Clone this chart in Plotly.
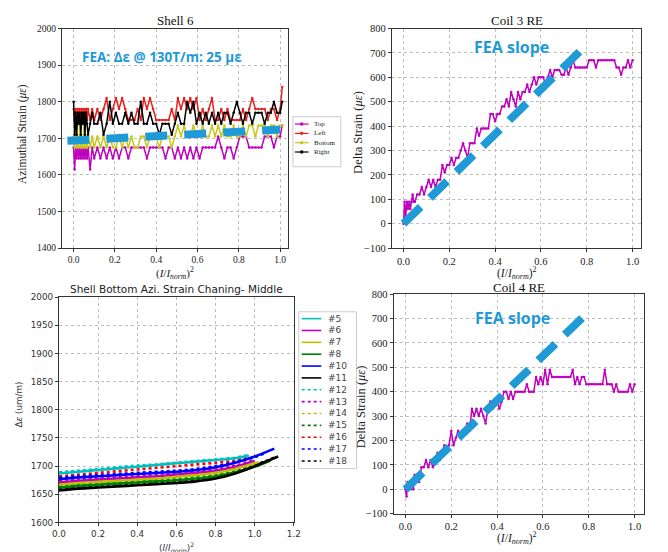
import plotly.graph_objects as go

W, H = 668, 552


def fx(p):
    return p / W


def fy(p):
    return 1 - p / H


# ---------------- data: Shell 6 ----------------
shell6_x = [0.000, 0.005, 0.010, 0.015, 0.020, 0.025, 0.030, 0.035, 0.040, 0.045, 0.050, 0.055, 0.060, 0.065, 0.070,
            0.080, 0.090, 0.100,
            0.115, 0.130, 0.145, 0.160, 0.175, 0.190, 0.205, 0.220, 0.235, 0.250,
            0.265, 0.280, 0.295, 0.310, 0.325, 0.340, 0.355, 0.370, 0.385, 0.400,
            0.415, 0.430, 0.445, 0.460, 0.475, 0.490, 0.505, 0.520, 0.535, 0.550,
            0.565, 0.580, 0.595, 0.610, 0.625, 0.640, 0.655, 0.670, 0.685, 0.700,
            0.715, 0.730, 0.745, 0.760, 0.775, 0.790, 0.805, 0.820, 0.835, 0.850,
            0.865, 0.880, 0.895, 0.910, 0.925, 0.940, 0.955, 0.970, 0.985, 1.000,
            1.010]
shell6_top = [1675, 1615, 1675, 1645, 1675, 1645, 1675, 1645, 1675, 1645, 1675, 1645, 1675, 1645, 1675,
              1615, 1675, 1645,
              1675, 1645, 1675, 1645, 1675, 1645, 1675, 1645, 1675, 1675,
              1645, 1675, 1675, 1675, 1675, 1675, 1645, 1675, 1675, 1675,
              1675, 1675, 1645, 1675, 1675, 1645, 1675, 1645, 1675, 1645,
              1675, 1645, 1675, 1645, 1675, 1675, 1675, 1675, 1675, 1705,
              1675, 1645, 1675, 1675, 1645, 1675, 1705, 1705, 1705, 1675,
              1675, 1675, 1675, 1675, 1705, 1705, 1705, 1675, 1705, 1705,
              1735]
shell6_left = [1780, 1750, 1780, 1750, 1780, 1750, 1780, 1750, 1780, 1750, 1780, 1750, 1780, 1750, 1780,
               1750, 1780, 1750,
               1780, 1750, 1780, 1810, 1750, 1780, 1810, 1780, 1810, 1780,
               1750, 1750, 1750, 1780, 1750, 1810, 1780, 1810, 1780, 1750,
               1750, 1750, 1750, 1750, 1780, 1750, 1810, 1780, 1810, 1780,
               1810, 1780, 1810, 1750, 1780, 1750, 1780, 1810, 1750, 1750,
               1780, 1750, 1780, 1750, 1750, 1750, 1750, 1780, 1750, 1780,
               1810, 1780, 1780, 1780, 1780, 1750, 1780, 1780, 1750, 1780,
               1840]
shell6_bottom = [1705, 1675, 1735, 1675, 1705, 1675, 1735, 1675, 1705, 1675, 1735, 1675, 1705, 1675, 1705,
                 1675, 1705, 1675,
                 1705, 1675, 1705, 1675, 1705, 1675, 1675, 1705, 1675, 1705,
                 1675, 1705, 1675, 1675, 1705, 1705, 1675, 1705, 1705, 1705,
                 1675, 1705, 1705, 1705, 1675, 1705, 1735, 1705, 1735, 1705,
                 1705, 1735, 1705, 1705, 1735, 1705, 1705, 1735, 1705, 1735,
                 1705, 1735, 1705, 1705, 1735, 1705, 1705, 1735, 1705, 1735,
                 1735, 1705, 1735, 1735, 1735, 1705, 1735, 1735, 1705, 1735,
                 1735]
shell6_right = [1800, 1710, 1770, 1710, 1770, 1740, 1770, 1710, 1770, 1740, 1770, 1710, 1770, 1740, 1710,
                1740, 1770, 1740,
                1740, 1770, 1710, 1740, 1800, 1740, 1770, 1740, 1740, 1770,
                1740, 1770, 1740, 1740, 1800, 1740, 1740, 1770, 1740, 1740,
                1710, 1740, 1740, 1740, 1710, 1740, 1770, 1740, 1740, 1800,
                1770, 1800, 1740, 1770, 1740, 1770, 1740, 1770, 1740, 1770,
                1740, 1770, 1770, 1740, 1770, 1800, 1770, 1740, 1770, 1770,
                1740, 1770, 1770, 1770, 1740, 1770, 1770, 1800, 1770, 1770,
                1800]
shell6_names = ["Top", "Left", "Bottom", "Right"]
shell6_colors = ["#bf00bf", "#e8201e", "#c8c81a", "#000000"]
fea_shell6_x = [-0.03, 1.0]
fea_shell6_y = [1693, 1724]

# ---------------- data: Coil 3 RE / Coil 4 RE ----------------
coil_x = [0.000, 0.005, 0.010, 0.015, 0.020, 0.025, 0.030, 0.035, 0.040, 0.045, 0.050,
          0.06, 0.07, 0.08, 0.09, 0.10, 0.11, 0.12, 0.13, 0.14, 0.15,
          0.16, 0.17, 0.18, 0.19, 0.20, 0.21, 0.22, 0.23, 0.24, 0.25,
          0.26, 0.27, 0.28, 0.29, 0.30, 0.31, 0.32, 0.33, 0.34, 0.35,
          0.36, 0.37, 0.38, 0.39, 0.40, 0.41, 0.42, 0.43, 0.44, 0.45,
          0.46, 0.47, 0.48, 0.49, 0.50, 0.51, 0.52, 0.53, 0.54, 0.55,
          0.56, 0.57, 0.58, 0.59, 0.60, 0.61, 0.62, 0.63, 0.64, 0.65,
          0.66, 0.67, 0.68, 0.69, 0.70, 0.71, 0.72, 0.73, 0.74, 0.75,
          0.76, 0.77, 0.78, 0.79, 0.80, 0.81, 0.82, 0.83, 0.84, 0.85,
          0.86, 0.87, 0.88, 0.89, 0.90, 0.91, 0.92, 0.93, 0.94, 0.95,
          0.96, 0.97, 0.98, 0.99, 1.00]
coil3_re = [0, 90, 30, 90, 60, 90, 60, 90, 120, 90, 90,
            120, 120, 150, 120, 150, 180, 150, 180, 150, 180,
            180, 240, 210, 240, 240, 270, 240, 270, 270, 300,
            330, 300, 270, 330, 330, 330, 390, 360, 390, 390,
            390, 390, 450, 450, 420, 450, 450, 480, 480, 510,
            480, 540, 510, 480, 540, 510, 540, 540, 570, 540,
            570, 600, 570, 600, 600, 600, 570, 600, 630, 600,
            630, 630, 630, 610, 610, 640, 610, 640, 670, 640,
            640, 640, 640, 640, 640, 670, 670, 670, 640, 670,
            670, 670, 670, 670, 670, 670, 670, 640, 640, 610,
            640, 640, 670, 640, 670]
coil4_re = [0, -30, 30, 0, 30, 0, 30, 0, 60, 30, 60,
            30, 90, 90, 120, 90, 120, 90, 120, 150, 120,
            150, 180, 150, 180, 240, 180, 210, 240, 210, 240,
            240, 270, 240, 330, 300, 330, 300, 330, 300, 270,
            330, 360, 330, 360, 360, 330, 360, 400, 400, 370,
            400, 370, 400, 400, 400, 400, 400, 430, 400, 400,
            400, 460, 430, 460, 430, 490, 430, 490, 460, 460,
            460, 460, 460, 460, 460, 460, 460, 490, 430, 460,
            430, 460, 460, 430, 430, 430, 430, 430, 430, 430,
            430, 490, 430, 430, 430, 400, 430, 400, 400, 400,
            400, 400, 430, 400, 430]
fea_coil3_x = [0.0, 0.79]
fea_coil3_y = [0, 725]
fea_coil4_x = [0.0, 0.785]
fea_coil4_y = [0, 715]

# ---------------- data: Shell bottom azimuthal strain ----------------
sb_names = ["#5", "#6", "#7", "#8", "#10", "#11", "#12", "#13", "#14", "#15", "#16", "#17", "#18"]
sb_colors = ["#00bfbf", "#bf00bf", "#bfbf00", "#008000", "#0000ff", "#000000",
             "#00bfbf", "#bf00bf", "#bfbf00", "#008000", "#ff0000", "#0000ff", "#000000"]
sb_dashes = ["solid", "solid", "solid", "solid", "solid", "solid",
             "dot", "dot", "dot", "dot", "dot", "dot", "dot"]
sb_x_5 = [0.0, 0.1, 0.2, 0.3, 0.4, 0.5, 0.6, 0.7, 0.8, 0.9, 0.97]
sb_y_5 = [1687, 1690, 1693, 1696, 1699, 1702, 1705, 1708, 1711, 1714, 1719]
sb_x_6 = [0.0, 0.1, 0.2, 0.3, 0.4, 0.5, 0.6, 0.7, 0.8, 0.9, 1.0]
sb_y_6 = [1671, 1674, 1676, 1678, 1680, 1682, 1685, 1688, 1692, 1699, 1709]
sb_x_7 = [0.0, 0.1, 0.2, 0.3, 0.4, 0.5, 0.6, 0.7, 0.8, 0.9, 1.02]
sb_y_7 = [1667, 1670, 1672, 1674, 1676, 1678, 1681, 1684, 1688, 1695, 1707]
sb_x_8 = [0.0, 0.1, 0.2, 0.3, 0.4, 0.5, 0.6, 0.7, 0.8, 0.9, 1.0, 1.08]
sb_y_8 = [1662, 1665, 1667, 1669, 1671, 1673, 1675, 1678, 1682, 1689, 1699, 1710]
sb_x_10 = [0.0, 0.1, 0.2, 0.3, 0.4, 0.5, 0.6, 0.7, 0.8, 0.9, 1.0, 1.1]
sb_y_10 = [1677, 1680, 1682, 1684, 1686, 1688, 1690, 1693, 1698, 1706, 1717, 1731]
sb_x_11 = [0.0, 0.1, 0.2, 0.3, 0.4, 0.5, 0.6, 0.7, 0.8, 0.9, 1.0, 1.12]
sb_y_11 = [1657, 1660, 1662, 1664, 1666, 1668, 1670, 1673, 1678, 1687, 1700, 1717]
sb_x_12 = [0.0, 0.1, 0.2, 0.3, 0.4, 0.5, 0.6, 0.7, 0.8, 0.9, 0.97]
sb_y_12 = [1689, 1692, 1695, 1698, 1701, 1703, 1706, 1709, 1712, 1715, 1720]
sb_x_13 = [0.0, 0.1, 0.2, 0.3, 0.4, 0.5, 0.6, 0.7, 0.8, 0.9, 1.0]
sb_y_13 = [1673, 1676, 1678, 1680, 1682, 1684, 1687, 1690, 1694, 1701, 1711]
sb_x_14 = [0.0, 0.1, 0.2, 0.3, 0.4, 0.5, 0.6, 0.7, 0.8, 0.9, 1.0]
sb_y_14 = [1669, 1672, 1674, 1676, 1678, 1680, 1683, 1686, 1690, 1697, 1707]
sb_x_15 = [0.0, 0.1, 0.2, 0.3, 0.4, 0.5, 0.6, 0.7, 0.8, 0.9, 1.0, 1.05]
sb_y_15 = [1664, 1667, 1669, 1671, 1673, 1675, 1677, 1680, 1684, 1691, 1701, 1708]
sb_x_16 = [0.0, 0.1, 0.2, 0.3, 0.4, 0.5, 0.6, 0.7, 0.8, 0.9, 0.97]
sb_y_16 = [1682, 1685, 1688, 1691, 1694, 1697, 1700, 1703, 1706, 1710, 1716]
sb_x_17 = [0.0, 0.1, 0.2, 0.3, 0.4, 0.5, 0.6, 0.7, 0.8, 0.9, 1.0, 1.06]
sb_y_17 = [1679, 1682, 1684, 1686, 1688, 1690, 1692, 1695, 1700, 1707, 1716, 1724]
sb_x_18 = [0.0, 0.1, 0.2, 0.3, 0.4, 0.5, 0.6, 0.7, 0.8, 0.9, 1.0, 1.1]
sb_y_18 = [1659, 1662, 1664, 1666, 1668, 1670, 1672, 1675, 1680, 1689, 1701, 1715]
sb_xs = [sb_x_5, sb_x_6, sb_x_7, sb_x_8, sb_x_10, sb_x_11, sb_x_12, sb_x_13, sb_x_14, sb_x_15, sb_x_16, sb_x_17, sb_x_18]
sb_ys = [sb_y_5, sb_y_6, sb_y_7, sb_y_8, sb_y_10, sb_y_11, sb_y_12, sb_y_13, sb_y_14, sb_y_15, sb_y_16, sb_y_17, sb_y_18]
sb_draw_order = [10, 9, 8, 7, 6, 12, 11, 0, 1, 2, 3, 4, 5]

FEA_BLUE = "#1f9ad6"
SERIF = "Liberation Serif"
SANS = "DejaVu Sans"

fig = go.Figure()

# Panel 1
shell6_series = [shell6_top, shell6_left, shell6_bottom, shell6_right]
for name, col, ys in zip(shell6_names, shell6_colors, shell6_series):
    fig.add_trace(go.Scatter(x=shell6_x, y=ys, name=name, mode="lines+markers",
                             line=dict(color=col, width=1.5), marker=dict(size=2.5, color=col),
                             xaxis="x", yaxis="y", showlegend=False))
fig.add_trace(go.Scatter(x=fea_shell6_x, y=fea_shell6_y, mode="lines",
                         line=dict(color=FEA_BLUE, width=8, dash="22px,17px"),
                         xaxis="x", yaxis="y", showlegend=False))

# Panel 2
fig.add_trace(go.Scatter(x=coil_x, y=coil3_re, mode="lines+markers",
                         line=dict(color="#bf00bf", width=1.5), marker=dict(size=2.5, color="#bf00bf"),
                         xaxis="x2", yaxis="y2", showlegend=False))
fig.add_trace(go.Scatter(x=fea_coil3_x, y=fea_coil3_y, mode="lines",
                         line=dict(color=FEA_BLUE, width=8, dash="24px,13px"),
                         xaxis="x2", yaxis="y2", showlegend=False))

# Panel 3
for i in sb_draw_order:
    fig.add_trace(go.Scatter(x=sb_xs[i], y=sb_ys[i], name=sb_names[i], mode="lines",
                             line=dict(color=sb_colors[i], width=2.6, dash=sb_dashes[i], shape="spline"),
                             xaxis="x3", yaxis="y3", showlegend=False))

# Panel 4
fig.add_trace(go.Scatter(x=coil_x, y=coil4_re, mode="lines+markers",
                         line=dict(color="#bf00bf", width=1.5), marker=dict(size=2.5, color="#bf00bf"),
                         xaxis="x4", yaxis="y4", showlegend=False))
fig.add_trace(go.Scatter(x=fea_coil4_x, y=fea_coil4_y, mode="lines",
                         line=dict(color=FEA_BLUE, width=8, dash="24px,13px"),
                         xaxis="x4", yaxis="y4", showlegend=False))


def ax(domain, rng, anchor, font, **kw):
    d = dict(domain=domain, range=rng, anchor=anchor, showline=True, mirror=True,
             linecolor="#333", linewidth=1, ticks="outside", ticklen=3, tickwidth=1,
             tickcolor="#333", showgrid=True, gridcolor="#bdbdbd", griddash="dot",
             gridwidth=1, zeroline=False, tickfont=font)
    d.update(kw)
    return d


f1 = dict(family=SERIF, size=9.5, color="#222")
f2 = dict(family=SERIF, size=10.5, color="#222")
f3 = dict(family=SANS, size=8.8, color="#333")

fig.update_layout(
    width=W, height=H, autosize=False,
    margin=dict(l=0, r=0, t=0, b=0),
    paper_bgcolor="white", plot_bgcolor="white",
    xaxis=ax([fx(56), fx(287)], [-0.057, 1.038], "y", f1, tick0=0, dtick=0.2, tickformat=".1f"),
    yaxis=ax([fy(248), fy(24)], [1400, 2000], "x", f1, tick0=1400, dtick=100),
    xaxis2=ax([fx(393), fx(648)], [-0.051, 1.0385], "y2", f2, tick0=0, dtick=0.2, tickformat=".1f"),
    yaxis2=ax([fy(248), fy(24)], [-100, 800], "x2", f2, tick0=-100, dtick=100),
    xaxis3=ax([fx(53), fx(293)], [0, 1.2], "y3", f3, tick0=0, dtick=0.2, tickformat=".1f"),
    yaxis3=ax([fy(528), fy(298)], [1600, 2000], "x3", f3, tick0=1600, dtick=50),
    xaxis4=ax([fx(395), fx(651)], [-0.051, 1.0427], "y4", f2, tick0=0, dtick=0.2, tickformat=".1f"),
    yaxis4=ax([fy(519), fy(295)], [-100, 800], "x4", f2, tick0=-100, dtick=100),
)

ann = []
shapes = []


def text(px, py, s, font, xanchor="center", yanchor="middle", angle=0):
    ann.append(dict(x=fx(px), y=fy(py), xref="paper", yref="paper", text=s, showarrow=False,
                    xanchor=xanchor, yanchor=yanchor, textangle=angle, font=font))


xlab = "(<i>I</i>/<i>I</i><sub><i>norm</i></sub>)<sup>2</sup>"

# titles
text(172, 16, "Shell 6", dict(family=SERIF, size=13, color="#111"))
text(521, 16, "Coil 3 RE", dict(family=SERIF, size=13, color="#111"))
text(173, 290, "Shell Bottom Azi. Strain Chaning- Middle", dict(family=SANS, size=10.5, color="#222"))
text(523, 288, "Coil 4 RE", dict(family=SERIF, size=13, color="#111"))

# axis titles
text(16, 132, "Azimuthal Strain (<i>με</i>)", dict(family=SERIF, size=11.5, color="#222"), angle=-90)
text(172, 273, xlab, dict(family=SERIF, size=11, color="#222"))
text(359, 130, "Delta Strain (<i>με</i>)", dict(family=SERIF, size=12.5, color="#222"), angle=-90)
text(521, 273, xlab, dict(family=SERIF, size=11.5, color="#222"))
text(12, 408, "Δ<i>ε</i> (um/m)", dict(family=SANS, size=8.8, color="#333"), angle=-90)
text(173, 554, xlab, dict(family=SANS, size=8.8, color="#333"))
text(361, 410, "Delta Strain (<i>με</i>)", dict(family=SERIF, size=12.5, color="#222"), angle=-90)
text(521, 544, xlab, dict(family=SERIF, size=11.5, color="#222"))

# FEA notes
text(158, 53, "<b>FEA: Δε @ 130T/m: 25 με</b>", dict(family="Open Sans", size=13.5, color=FEA_BLUE))
text(515, 43, "<b>FEA slope</b>", dict(family="Open Sans", size=16, color=FEA_BLUE))
text(516, 319, "<b>FEA slope</b>", dict(family="Open Sans", size=16, color=FEA_BLUE))

# legend: Shell 6
shapes.append(dict(type="rect", xref="paper", yref="paper", x0=fx(292), x1=fx(341), y0=fy(165), y1=fy(114),
                   line=dict(color="#cccccc", width=1), fillcolor="white", layer="above"))
for i, (name, col) in enumerate(zip(shell6_names, shell6_colors)):
    yy = 121.5 + 9.5 * i
    shapes.append(dict(type="line", xref="paper", yref="paper", x0=fx(294), x1=fx(308), y0=fy(yy), y1=fy(yy),
                       line=dict(color=col, width=1.2), layer="above"))
    shapes.append(dict(type="circle", xref="paper", yref="paper", x0=fx(299.5), x1=fx(302.5),
                       y0=fy(yy + 1.5), y1=fy(yy - 1.5), line=dict(color=col, width=0.5),
                       fillcolor=col, layer="above"))
    text(312, yy, name, dict(family=SERIF, size=7, color="#222"), xanchor="left")

# legend: Shell bottom
shapes.append(dict(type="rect", xref="paper", yref="paper", x0=fx(298), x1=fx(357), y0=fy(473), y1=fy(313),
                   line=dict(color="#cccccc", width=1), fillcolor="white", layer="above"))
for i, (name, col, dsh) in enumerate(zip(sb_names, sb_colors, sb_dashes)):
    yy = 320 + 12.1 * i
    shapes.append(dict(type="line", xref="paper", yref="paper", x0=fx(301), x1=fx(321), y0=fy(yy), y1=fy(yy),
                       line=dict(color=col, width=1.6, dash=dsh), layer="above"))
    text(326, yy, name, dict(family=SANS, size=9, color="#444"), xanchor="left")

fig.update_layout(annotations=ann, shapes=shapes)

fig.write_html("out.html", include_plotlyjs=True, config={"displayModeBar": False},
               post_script="document.body.style.margin='0';document.body.style.overflow='hidden';")
